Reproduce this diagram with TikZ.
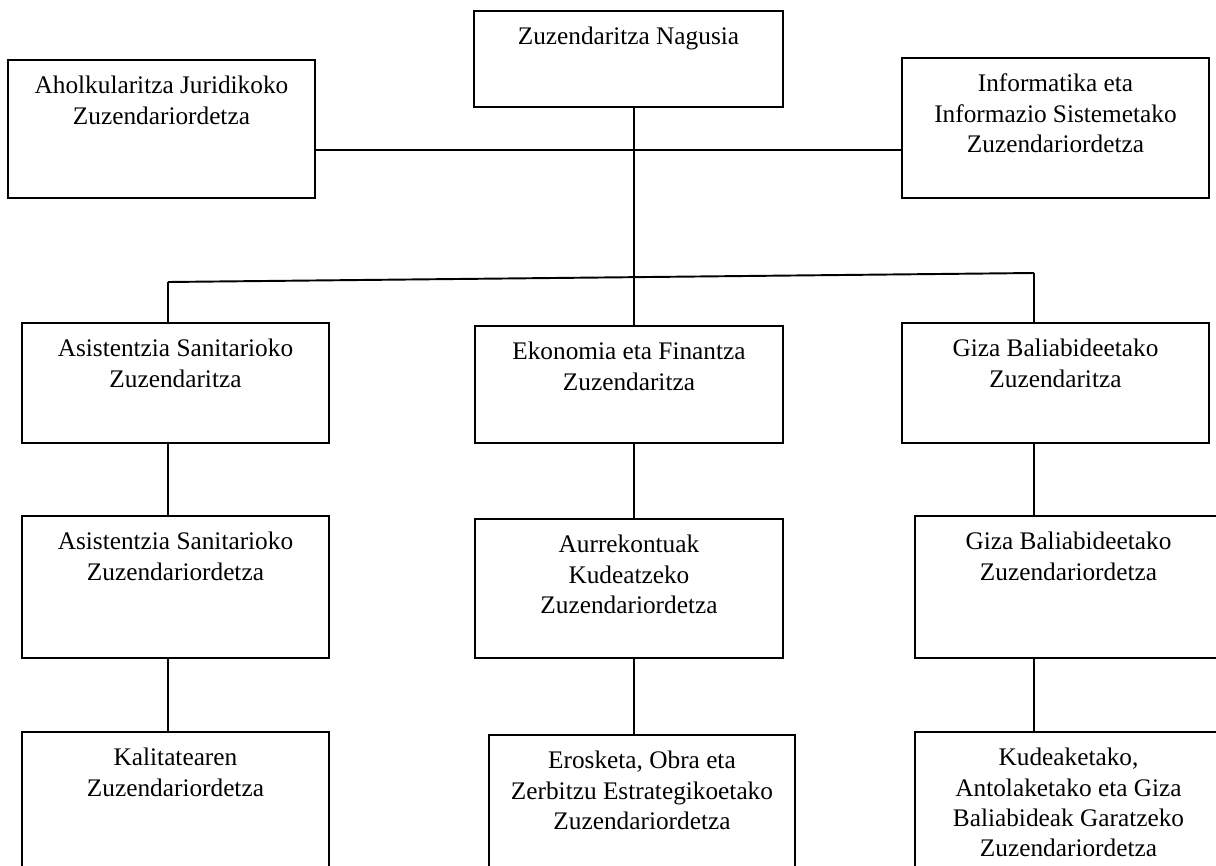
\documentclass[tikz,border=0pt]{standalone}
\usepackage{fontspec}
\setmainfont{Liberation Serif}
\usepackage{tikz}
\usetikzlibrary{calc,positioning}

\newlength{\unitpx}
\setlength{\unitpx}{0.02cm}
% box text: width, height (in px), lines
\newcommand{\unittext}[3]{\parbox[t][#2\unitpx][t]{#1\unitpx}{\centering\rule{0pt}{34\unitpx}#3}}

\tikzset{
  unit/.style={draw=black, line width=1.1pt, anchor=north west, inner sep=0pt},
  link/.style={draw=black, line width=1.1pt}
}

\begin{document}
\begin{tikzpicture}[x=0.02cm, y=-0.02cm, font=\fontsize{14.4}{17.2}\selectfont]
  \useasboundingbox (0,0) rectangle (1216,865);
  \clip (0,0) rectangle (1216,865);

  %top row
  \node[unit] (nag) at (473,10) {\unittext{309}{96}{Zuzendaritza Nagusia}};
  \node[unit] (ahj) at (7,59) {\unittext{307}{138}{Aholkularitza Juridikoko\\Zuzendariordetza}};
  \node[unit] (inf) at (901,57) {\unittext{307}{140}{Informatika eta\\Informazio Sistemetako\\Zuzendariordetza}};

  %zuzendaritzak
  \node[unit] (asz) at (21,322) {\unittext{307}{120}{Asistentzia Sanitarioko\\Zuzendaritza}};
  \node[unit] (ekf) at (474,325) {\unittext{308}{117}{Ekonomia eta Finantza\\Zuzendaritza}};
  \node[unit] (gbz) at (901,322) {\unittext{307}{120}{Giza Baliabideetako\\Zuzendaritza}};

  %zuzendariordetzak
  \node[unit] (asd) at (21,515) {\unittext{307}{142}{Asistentzia Sanitarioko\\Zuzendariordetza}};
  \node[unit] (aku) at (474,518) {\unittext{308}{139}{Aurrekontuak\\Kudeatzeko\\Zuzendariordetza}};
  \node[unit] (gbd) at (914,515) {\unittext{307}{142}{Giza Baliabideetako\\Zuzendariordetza}};

  \node[unit] (kal) at (21,731) {\unittext{307}{200}{Kalitatearen\\Zuzendariordetza}};
  \node[unit] (eos) at (488,734) {\unittext{306}{200}{Erosketa, Obra eta\\Zerbitzu Estrategikoetako\\Zuzendariordetza}};
  \node[unit] (kag) at (914,731) {\unittext{307}{200}{Kudeaketako,\\Antolaketako eta Giza\\Baliabideak Garatzeko\\Zuzendariordetza}};

  %junctions
  \coordinate (hub) at (634,150);
  \coordinate (tl) at (168,282);
  \coordinate (tr) at (1034,273);

  \draw[link] (ahj.east |- hub) -- (inf.west |- hub);
  \draw[link] (nag.south -| hub) -- (ekf.north -| hub);
  \draw[link] (tl) -- (tr);
  \draw[link] (tl) -- (asz.north -| tl);
  \draw[link] (tr) -- (gbz.north -| tr);

  %columns
  \draw[link] (asz.south -| tl) -- (asd.north -| tl);
  \draw[link] (asd.south -| tl) -- (kal.north -| tl);
  \draw[link] (ekf.south -| hub) -- (aku.north -| hub);
  \draw[link] (aku.south -| hub) -- (eos.north -| hub);
  \draw[link] (gbz.south -| tr) -- (gbd.north -| tr);
  \draw[link] (gbd.south -| tr) -- (kag.north -| tr);
\end{tikzpicture}
\end{document}
